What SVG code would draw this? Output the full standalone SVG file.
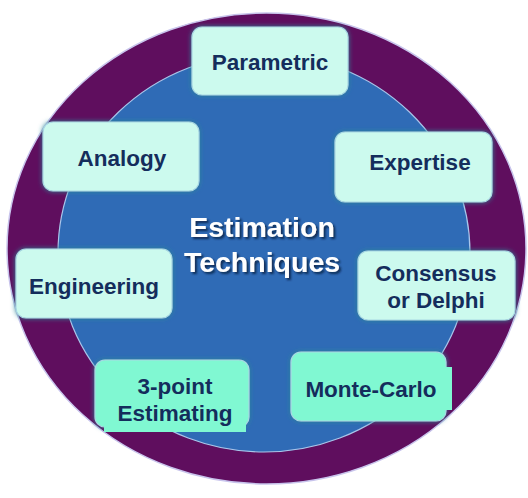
<svg xmlns="http://www.w3.org/2000/svg" width="528" height="498" viewBox="0 0 528 498">
<defs>
<filter id="glow" x="-20%" y="-30%" width="140%" height="160%">
<feGaussianBlur in="SourceAlpha" stdDeviation="2.5" result="b"/>
<feFlood flood-color="#2B8898" flood-opacity="1"/>
<feComposite in2="b" operator="in" result="g"/>
<feMerge><feMergeNode in="g"/><feMergeNode in="SourceGraphic"/></feMerge>
</filter>
<filter id="tshadow" x="-10%" y="-20%" width="120%" height="140%">
<feGaussianBlur in="SourceAlpha" stdDeviation="1" result="b"/>
<feOffset in="b" dx="1.5" dy="1.5" result="o"/>
<feFlood flood-color="#0A1A3A" flood-opacity="0.8"/>
<feComposite in2="o" operator="in" result="s"/>
<feMerge><feMergeNode in="s"/><feMergeNode in="SourceGraphic"/></feMerge>
</filter>
</defs>
<style>
.box{fill:#CCFAEE;stroke:#A8D8E4;stroke-width:1.2;filter:url(#glow)}
.mint{fill:#80F8D2;stroke:#A8D8E4;stroke-width:1.2;filter:url(#glow)}
.lbl{font-family:"Liberation Sans",Arial,sans-serif;font-weight:bold;font-size:22.5px;fill:#142D5C;text-anchor:middle}
.title{font-family:"Liberation Sans",Arial,sans-serif;font-weight:bold;font-size:28.5px;fill:#FFFFFF;text-anchor:middle;filter:url(#tshadow)}
</style>
<rect width="528" height="498" fill="#FFFFFF"/>
<g id="background">
<ellipse cx="266.5" cy="248.5" rx="259.5" ry="235.5" fill="#5F0E5E" stroke="#C8C4EC" stroke-width="1.5"/>
<ellipse cx="264" cy="253" rx="206" ry="199" fill="#2F6BB6" stroke="#A9C6EA" stroke-width="1.2"/>
</g>
<g id="title">
<text class="title" x="262" y="237">Estimation</text>
<text class="title" x="262" y="272">Techniques</text>
</g>
<g id="connectors"></g>
<g id="parametric">
<rect class="box" x="192" y="27" width="156" height="68" rx="10"/>
<text class="lbl" x="270" y="70">Parametric</text>
</g>
<g id="analogy">
<rect class="box" x="43" y="122" width="156" height="69" rx="10"/>
<text class="lbl" x="122" y="166">Analogy</text>
</g>
<g id="expertise">
<rect class="box" x="335" y="132" width="157" height="70" rx="10"/>
<text class="lbl" x="420" y="170">Expertise</text>
</g>
<g id="engineering">
<rect class="box" x="16" y="249" width="156" height="69" rx="10"/>
<text class="lbl" x="94" y="294">Engineering</text>
</g>
<g id="consensus">
<rect class="box" x="358" y="251" width="157" height="69" rx="10"/>
<text class="lbl" x="436" y="281">Consensus</text>
<text class="lbl" x="436" y="308">or Delphi</text>
</g>
<g id="three-point">
<rect class="mint" x="95" y="360" width="154" height="67" rx="10"/>
<rect x="104" y="380" width="142" height="52" fill="#80F8D2"/>
<text class="lbl" x="175" y="394">3-point</text>
<text class="lbl" x="175" y="421">Estimating</text>
</g>
<g id="monte-carlo">
<rect class="mint" x="291" y="352" width="155" height="69" rx="10"/>
<rect x="300" y="367" width="152" height="43" fill="#80F8D2"/>
<text class="lbl" x="371" y="397">Monte-Carlo</text>
</g>
</svg>
